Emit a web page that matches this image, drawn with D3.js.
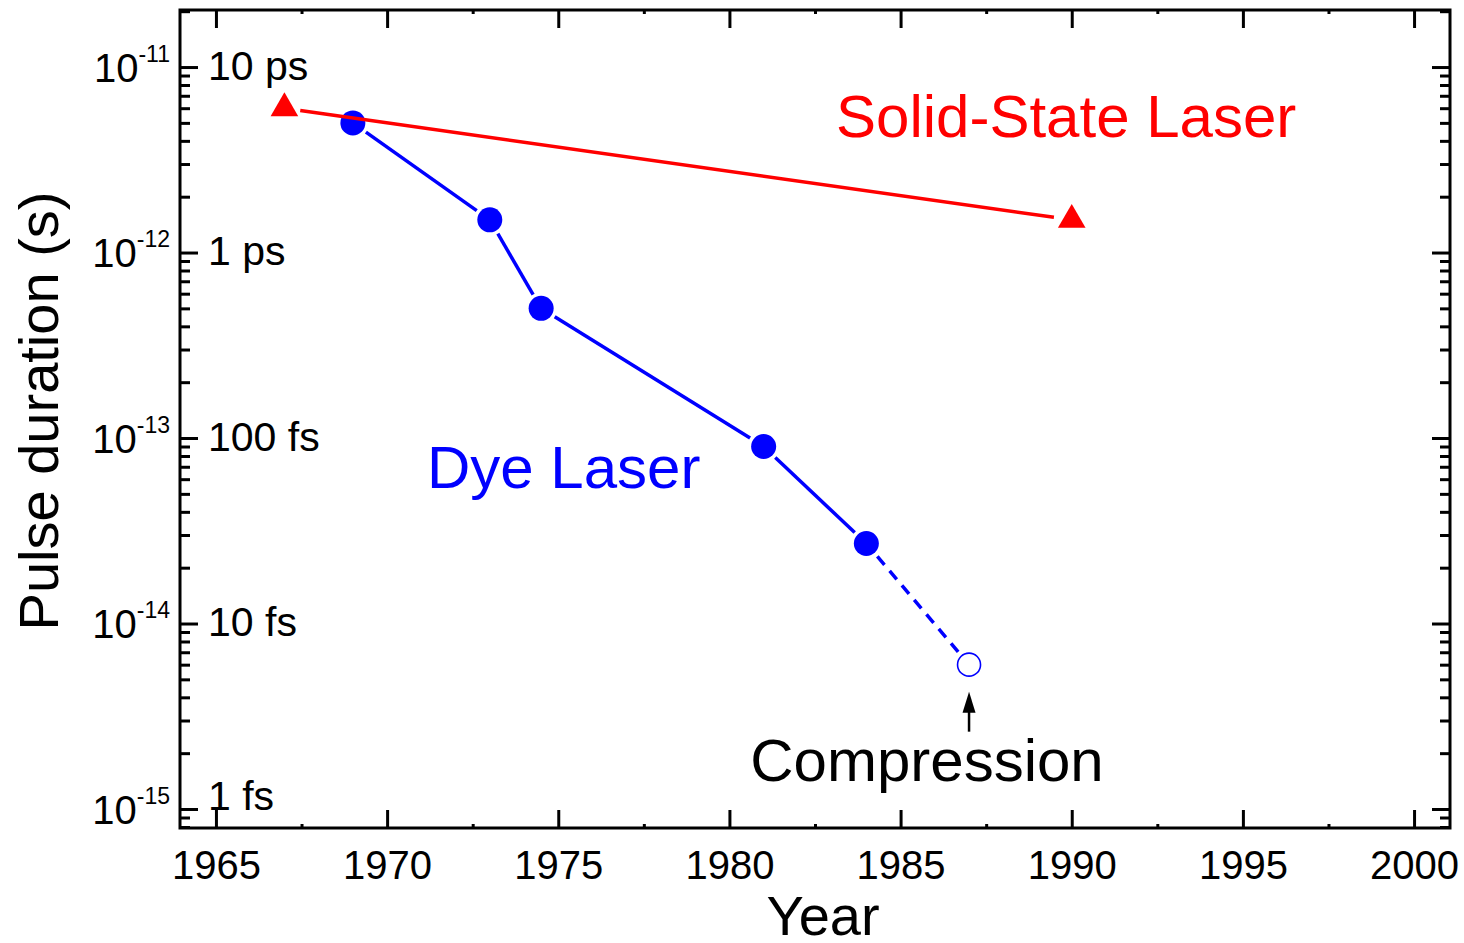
<!DOCTYPE html>
<html>
<head>
<meta charset="utf-8">
<script src="https://cdn.jsdelivr.net/npm/d3@7"></script>
<style>
  body { margin: 0; background: #fff; }
  text { font-family: "Liberation Sans", Arial, sans-serif; }
</style>
</head>
<body>
<svg id="chart" width="1464" height="943"></svg>
<script>
// pulse duration records
const dyeYears = [1969, 1973, 1974.5, 1981, 1984];
const dyeDurations = [5e-12, 1.5e-12, 5e-13, 9e-14, 2.7e-14];
const compressionYears = [1984, 1987];
const compressionDurations = [2.7e-14, 6e-15];
const solidYears = [1967, 1990];
const solidDurations = [6e-12, 1.5e-12];

// tick labels
const yearTicks = [1965, 1970, 1975, 1980, 1985, 1990, 1995, 2000];
const decadeTicks = [1e-11, 1e-12, 1e-13, 1e-14, 1e-15];
const exponentLabels = ["-11", "-12", "-13", "-14", "-15"];
const unitLabels = ["10 ps", "1 ps", "100 fs", "10 fs", "1 fs"];

const margin = { top: 10, right: 14, bottom: 115, left: 180 };
const width = 1464, height = 943;
const plotW = width - margin.left - margin.right;
const plotH = height - margin.top - margin.bottom;

const svg = d3.select('#chart');
const g = svg.append('g').attr('transform', `translate(${margin.left},${margin.top})`);

const x = d3.scaleLinear().domain([1963.95, 2001.05]).range([0, plotW]);
const y = d3.scaleLog().domain([7.9e-16, 2.03e-11]).range([plotH, 0]);

const minorYears = d3.range(1967.5, 2001, 5);
const minorDurations = y.ticks().filter(v => Math.abs(Math.log10(v) - Math.round(Math.log10(v))) > 1e-6);

// ---- axes (ticks point inwards on all four sides) ----
function styleAxis(sel) {
  sel.select('.domain').remove();
  sel.selectAll('line').attr('stroke', '#000').attr('stroke-width', 3);
  sel.selectAll('text').attr('font-size', 40).attr('fill', '#000');
}

g.append('g').attr('transform', `translate(0,${plotH})`)
  .call(d3.axisBottom(x).tickValues(yearTicks).tickSize(-18).tickPadding(22.6).tickFormat(d3.format('d')))
  .call(styleAxis);
g.append('g').attr('transform', `translate(0,${plotH})`)
  .call(d3.axisBottom(x).tickValues(minorYears).tickSize(-4).tickFormat(''))
  .call(styleAxis);
g.append('g')
  .call(d3.axisTop(x).tickValues(yearTicks).tickSize(-18).tickFormat(''))
  .call(styleAxis);
g.append('g')
  .call(d3.axisTop(x).tickValues(minorYears).tickSize(-4).tickFormat(''))
  .call(styleAxis);

const leftAxis = g.append('g')
  .call(d3.axisLeft(y).tickValues(decadeTicks).tickSize(-18).tickFormat(''))
  .call(styleAxis);
g.append('g')
  .call(d3.axisLeft(y).tickValues(minorDurations).tickSize(-10).tickFormat(''))
  .call(styleAxis);
g.append('g').attr('transform', `translate(${plotW},0)`)
  .call(d3.axisRight(y).tickValues(decadeTicks).tickSize(-18).tickFormat(''))
  .call(styleAxis);
g.append('g').attr('transform', `translate(${plotW},0)`)
  .call(d3.axisRight(y).tickValues(minorDurations).tickSize(-10).tickFormat(''))
  .call(styleAxis);

// 10^n labels outside, unit names inside
leftAxis.selectAll('.tick').each(function(d, i) {
  const tick = d3.select(this);
  const lbl = tick.append('text')
    .attr('x', -10).attr('y', 14)
    .attr('text-anchor', 'end')
    .attr('font-size', 40).attr('fill', '#000');
  lbl.append('tspan').text('10');
  lbl.append('tspan').attr('font-size', 23).attr('dy', -20).text(exponentLabels[i]);

  const unitY = Math.min(y(d) + 12, y(1e-15)) - y(d);
  tick.append('text')
    .attr('x', 28).attr('y', unitY)
    .attr('text-anchor', 'start')
    .attr('font-size', 41).attr('fill', '#000')
    .text(unitLabels[i]);
});

// frame
g.append('rect')
  .attr('width', plotW).attr('height', plotH)
  .attr('fill', 'none').attr('stroke', '#000').attr('stroke-width', 3);

// axis titles
svg.append('text')
  .attr('x', 823).attr('y', 935)
  .attr('text-anchor', 'middle').attr('font-size', 56)
  .text('Year');
svg.append('text')
  .attr('transform', 'translate(58,411) rotate(-90)')
  .attr('text-anchor', 'middle').attr('font-size', 56)
  .text('Pulse duration (s)');

// ---- series ----
// line segments stop short of the markers, like the original plot
function gappedSegments(xs, vs, gapA, gapB) {
  const segs = [];
  for (let i = 0; i < xs.length - 1; i++) {
    const x1 = x(xs[i]), y1 = y(vs[i]), x2 = x(xs[i + 1]), y2 = y(vs[i + 1]);
    const len = Math.hypot(x2 - x1, y2 - y1);
    const ux = (x2 - x1) / len, uy = (y2 - y1) / len;
    segs.push({ x1: x1 + ux * gapA, y1: y1 + uy * gapA, x2: x2 - ux * gapB, y2: y2 - uy * gapB });
  }
  return segs;
}

function drawSegments(segs, color, dash) {
  g.append('g').selectAll('line')
    .data(segs)
    .join('line')
    .attr('x1', d => d.x1).attr('y1', d => d.y1)
    .attr('x2', d => d.x2).attr('y2', d => d.y2)
    .attr('stroke', color).attr('stroke-width', 3.5)
    .attr('stroke-dasharray', dash || null);
}

const blue = '#0000ff', red = '#ff0000';

// dye laser
drawSegments(gappedSegments(dyeYears, dyeDurations, 16, 16), blue);
drawSegments(gappedSegments(compressionYears, compressionDurations, 17, 13), blue, '11,8');
g.append('g').selectAll('circle')
  .data(dyeYears.map((yr, i) => [yr, dyeDurations[i]]))
  .join('circle')
  .attr('cx', d => x(d[0])).attr('cy', d => y(d[1]))
  .attr('r', 12.5).attr('fill', blue);
g.append('circle')
  .attr('cx', x(compressionYears[1])).attr('cy', y(compressionDurations[1]))
  .attr('r', 11.5).attr('fill', '#fff').attr('stroke', blue).attr('stroke-width', 1.6);

// solid-state laser (drawn over the dye series)
drawSegments(gappedSegments(solidYears, solidDurations, 16, 18), red);
g.append('g').selectAll('path')
  .data(solidYears.map((yr, i) => [yr, solidDurations[i]]))
  .join('path')
  .attr('transform', d => `translate(${x(d[0])},${y(d[1])})`)
  .attr('d', d3.symbol(d3.symbolTriangle, 330))
  .attr('fill', red);

// compression arrow
const ax = x(compressionYears[1]), ay = y(compressionDurations[1]);
g.append('line')
  .attr('x1', ax).attr('y1', ay + 67).attr('x2', ax).attr('y2', ay + 44)
  .attr('stroke', '#000').attr('stroke-width', 2.5);
g.append('path')
  .attr('d', `M${ax},${ay + 27}L${ax - 6.5},${ay + 48}L${ax + 6.5},${ay + 48}Z`)
  .attr('fill', '#000');

// annotations
svg.append('text')
  .attr('x', 836).attr('y', 137).attr('font-size', 60).attr('fill', red)
  .text('Solid-State Laser');
svg.append('text')
  .attr('x', 427).attr('y', 488).attr('font-size', 60).attr('fill', blue)
  .text('Dye Laser');
svg.append('text')
  .attr('x', 927).attr('y', 781).attr('text-anchor', 'middle').attr('font-size', 60).attr('fill', '#000')
  .text('Compression');
</script>
</body>
</html>
